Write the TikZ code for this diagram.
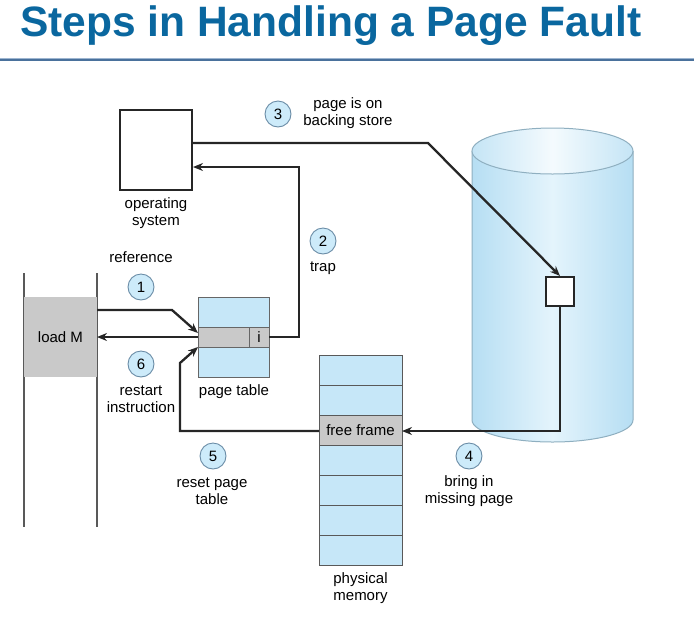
\documentclass[tikz,border=0pt]{standalone}
\usepackage{fontspec}
\setmainfont{Liberation Sans}
\usetikzlibrary{arrows.meta,calc}
\definecolor{titleblue}{HTML}{0A679F}
\definecolor{ruleblue}{HTML}{4A719C}
\definecolor{rulelight}{HTML}{9DB5D0}
\definecolor{cellblue}{HTML}{C6E7F8}
\definecolor{cellgray}{HTML}{C9C9C9}
\definecolor{circfill}{HTML}{CDEBFA}
\definecolor{circline}{HTML}{6A8CA6}
\definecolor{diskedge}{HTML}{B6DEF3}
\definecolor{diskmid}{HTML}{E4F4FC}
\definecolor{diskline}{HTML}{8FAFC0}
\tikzset{
  x=1pt,y=1pt,
  lbl/.style={font=\fontsize{15}{17}\selectfont, align=center, inner sep=0pt},
  stepnum/.style={circle, draw=circline, line width=0.9pt, fill=circfill, minimum size=26pt, inner sep=0pt, font=\fontsize{15}{17}\selectfont},
  conn/.style={line width=2.3pt, draw=black!85, line join=miter},
  arr/.style={conn, -{Stealth[length=10pt,width=8pt]}},
  memrow/.style={draw=black!65, line width=1pt, fill=cellblue, minimum width=83pt, minimum height=30pt, inner sep=0pt, outer sep=0pt},
  plainbox/.style={draw=black!85, line width=2pt, fill=white, inner sep=0pt},
}
\begin{document}
\begin{tikzpicture}
\useasboundingbox (0,0) rectangle (694,-625);
% title
\node[anchor=base west, inner sep=0pt, text=titleblue, font=\fontsize{42.5}{44}\selectfont\bfseries] (title) at (20,-36) {Steps in Handling a Page Fault};
\draw[rulelight, line width=1pt] (0,-58) -- (694,-58);
\draw[ruleblue, line width=2pt] (0,-60) -- (694,-60);

% disk (cylinder)
\shade[left color=diskedge, right color=diskedge, middle color=diskmid]
  (472,-151) -- (472,-420) arc[start angle=180, end angle=360, x radius=80.5, y radius=22] -- (633,-151) -- cycle;
\draw[diskline, line width=1pt] (472,-151) -- (472,-420) arc[start angle=180, end angle=360, x radius=80.5, y radius=22] -- (633,-151);
\shade[left color=diskedge!80, right color=diskedge!80, middle color=white!60!diskmid]
  (552.5,-151) ellipse[x radius=80.5, y radius=23];
\draw[diskline, line width=1pt] (552.5,-151) ellipse[x radius=80.5, y radius=23];
\node[plainbox, minimum width=28pt, minimum height=29pt] (dblk) at (560,-291.5) {};

% operating system
\node[plainbox, minimum width=72pt, minimum height=80pt] (os) at (156,-150) {};
\node[lbl] (oslbl) at (156,-213) {operating\\system};

% program column
\draw[black!65, line width=1.6pt] (24,-273) -- (24,-527);
\draw[black!65, line width=1.6pt] (97,-273) -- (97,-527);
\node[fill=cellgray, minimum width=73pt, minimum height=80pt, inner sep=0pt, outer sep=0pt, font=\fontsize{15}{17}\selectfont] (loadm) at (60.5,-337) {load M};

% page table
\node[draw=black!60, line width=1pt, fill=cellblue, minimum width=71pt, minimum height=80pt, inner sep=0pt, outer sep=0pt] (ptab) at (233.5,-337) {};
\node[draw=black!60, line width=1pt, fill=cellgray, minimum width=51pt, minimum height=20pt, inner sep=0pt, outer sep=0pt] (prow) at (223.5,-337) {};
\node[draw=black!60, line width=1pt, fill=cellgray, minimum width=20pt, minimum height=20pt, inner sep=0pt, outer sep=0pt, font=\fontsize{15}{17}\selectfont] (icell) at (259,-337) {i};
\node[lbl] (ptlbl) at (234,-392) {page table};

% physical memory
\node[memrow] (m1) at (360.5,-370) {};
\node[memrow] (m2) at (360.5,-400) {};
\node[memrow, fill=cellgray, font=\fontsize{15}{17}\selectfont] (ff) at (360.5,-430) {free frame};
\node[memrow] (m4) at (360.5,-460) {};
\node[memrow] (m5) at (360.5,-490) {};
\node[memrow] (m6) at (360.5,-520) {};
\node[memrow] (m7) at (360.5,-550) {};
\node[lbl] (pmlbl) at (360.5,-588) {physical\\memory};

% connectors
\coordinate (r1a) at (172,-310);
\draw[arr] (loadm.east |- r1a) -- (r1a) -- ($(prow.west)+(0,4)$);
\draw[arr] (prow.west) -- (loadm.east);
\coordinate (t1) at (299,-337);
\coordinate (t2) at (299,-167);
\draw[arr] (icell.east) -- (t1) -- (t2) -- (os.east |- t2);
\coordinate (b1) at (428,-143);
\draw[arr] (os.east |- b1) -- (b1) -- (dblk.north);
\coordinate (d1) at (560,-431);
\draw[arr] (dblk.south) -- (d1) -- (ff.east |- d1);
\coordinate (f1) at (180,-431);
\coordinate (f2) at (180,-363);
\draw[arr] (ff.west |- f1) -- (f1) -- (f2) -- ($(prow.west)+(0,-10)$);

% step labels
\node[stepnum] (c1) at (141,-287) {1};
\node[lbl] (l1) at (141,-257) {reference};
\node[stepnum] (c2) at (323,-241) {2};
\node[lbl] (l2) at (323,-268) {trap};
\node[stepnum] (c3) at (278,-114) {3};
\node[lbl] (l3) at (348,-113) {page is on\\backing store};
\node[stepnum] (c4) at (469,-456) {4};
\node[lbl] (l4) at (469,-491) {bring in\\missing page};
\node[stepnum] (c5) at (213,-456) {5};
\node[lbl] (l5) at (212,-491) {reset page\\table};
\node[stepnum] (c6) at (141,-364) {6};
\node[lbl] (l6) at (141,-399) {restart\\instruction};
\end{tikzpicture}
\end{document}
